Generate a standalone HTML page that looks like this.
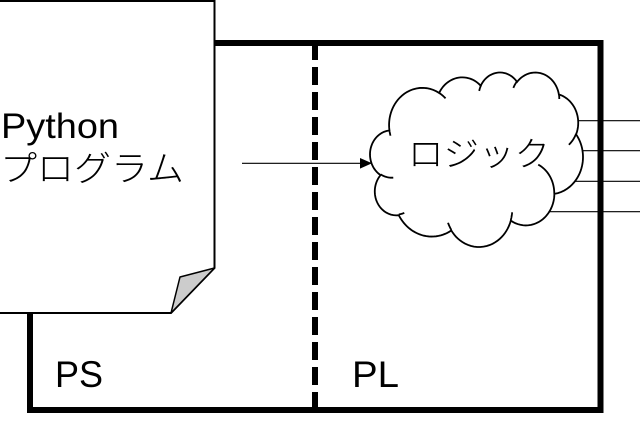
<!DOCTYPE html>
<html><head><meta charset="utf-8"><style>
html,body{margin:0;padding:0;background:#fff;width:640px;height:422px;overflow:hidden}
svg{display:block}
.lat{font-family:"Liberation Sans","Noto Sans CJK JP",sans-serif}
.jp{font-family:"Liberation Sans","Noto Sans CJK JP",sans-serif;font-weight:300}
</style></head><body>
<svg width="640" height="422" viewBox="0 0 640 422" xmlns="http://www.w3.org/2000/svg">
<rect x="0" y="0" width="640" height="422" fill="#fff"/>
<!-- main PS/PL box -->
<rect x="30" y="43" width="570.5" height="367" fill="#fff" stroke="#000" stroke-width="6"/>
<!-- dashed divider -->
<line x1="315" y1="42" x2="315" y2="410" stroke="#000" stroke-width="6" stroke-dasharray="18 7"/>
<!-- output lines -->
<line x1="540" y1="120.7" x2="640" y2="120.7" stroke="#000" stroke-width="1.2"/>
<line x1="540" y1="150.7" x2="640" y2="150.7" stroke="#000" stroke-width="1.2"/>
<line x1="540" y1="181.3" x2="640" y2="181.3" stroke="#000" stroke-width="1.2"/>
<line x1="530" y1="211.7" x2="640" y2="211.7" stroke="#000" stroke-width="1.2"/>
<!-- cloud -->
<path id="cloud" d="M390,132 A32,32 0 0,1 443,98 A22,22 0 0,1 483,87 A17,17 0 0,1 513,88 A25,25 0 0,1 560,98 A26,26 0 0,1 570,145 A27,27 0 0,1 557,193 A27,27 0 0,1 512,222 A33,33 0 0,1 450,225 A26,26 0 0,1 403,215 A20,20 0 0,1 393,178 A24,24 0 0,1 390,132 Z" fill="#fff" stroke="#000" stroke-width="1.8"/>
<path id="cloudin" d="" fill="none" stroke="#000" stroke-width="1.8"/>
<text class="jp" x="408" y="166" font-size="34" textLength="142" lengthAdjust="spacingAndGlyphs">ロジック</text>
<!-- arrow -->
<line x1="242" y1="163.3" x2="361" y2="163.3" stroke="#000" stroke-width="1.2"/>
<polygon points="360,158 372,163.3 360,168.6" fill="#000"/>
<!-- document -->
<polygon points="-5,1 214.5,1 214.5,268 171,313 -5,313" fill="#fff" stroke="#000" stroke-width="2"/>
<polygon points="214.5,268 180,277 171,313" fill="#cccccc" stroke="#000" stroke-width="1.5" stroke-linejoin="round"/>
<text class="lat" x="1" y="138" font-size="35" textLength="118" lengthAdjust="spacingAndGlyphs">Python</text>
<text class="jp" x="0" y="181" font-size="35" textLength="184" lengthAdjust="spacingAndGlyphs">プログラム</text>
<!-- labels -->
<text class="lat" x="55" y="387" font-size="37" textLength="48" lengthAdjust="spacingAndGlyphs">PS</text>
<text class="lat" x="352" y="387" font-size="37" textLength="47" lengthAdjust="spacingAndGlyphs">PL</text>
</svg>
<script>
(function(){
try{
var K=60000, D=Math.PI/180;
function arcPts(px,py,wr,hr,st,sw,out){
  var a=wr,b=hr,th0=st/K*D,dth=sw/K*D;
  var t0=Math.atan2(a*Math.sin(th0),b*Math.cos(th0));
  var cx=px-a*Math.cos(t0),cy=py-b*Math.sin(t0);
  var N=28;
  for(var i=1;i<=N;i++){
    var th=th0+dth*i/N;
    var t=Math.atan2(a*Math.sin(th),b*Math.cos(th));
    px=cx+a*Math.cos(t);py=cy+b*Math.sin(t);
    out.push([px,py]);
  }
  return [px,py];
}
var arcs=[[6753,9190,-11429249,7426832],[5333,7267,-8646143,5396714],[4365,5945,-8748475,5983381],[4857,6595,-7859164,7034504],[5333,7273,-4722533,6541615],[6775,9220,-2776035,7816140],[5785,7867,37501,6842000],[6752,9215,1347096,6910353],[7720,10543,3974558,4542661],[4360,5918,-16496525,8804134],[4345,5945,-14809710,9151131]];
var pts=[[3900,14370]],p=[3900,14370];
for(var i=0;i<arcs.length;i++){p=arcPts(p[0],p[1],arcs[i][0],arcs[i][1],arcs[i][2],arcs[i][3],pts);}
var minx=1e9,maxx=-1e9,miny=1e9,maxy=-1e9;
pts.forEach(function(q){if(q[0]<minx)minx=q[0];if(q[0]>maxx)maxx=q[0];if(q[1]<miny)miny=q[1];if(q[1]>maxy)maxy=q[1];});
var X0=370,X1=583,Y0=72.5,Y1=247;
function mx(x){return X0+(x-minx)*(X1-X0)/(maxx-minx);}
function my(y){return Y0+(y-miny)*(Y1-Y0)/(maxy-miny);}
var d='';
pts.forEach(function(q,j){d+=(j?' L':'M')+mx(q[0]).toFixed(2)+' '+my(q[1]).toFixed(2);});
d+=' Z';
document.getElementById('cloud').setAttribute('d',d);
var inner=[[4693,26177,4345,5945,5204520,1585770],[6928,34899,4360,5918,4416628,686848],[16478,39090,6752,9215,8257449,844866],[28827,34751,6752,9215,387196,959901],[34129,22954,5785,7867,-4217541,4255042],[41798,15354,5333,7273,1819082,1665090],[38324,5426,4857,6595,-824660,891534],[29078,3952,4857,6595,-8950887,1091722],[22141,4720,4365,5945,-9809656,1061181],[14000,5192,6753,9190,-4002417,739161],[4127,15789,6753,9190,9459261,711490]];
var di='';
inner.forEach(function(s){
  var o=[];arcPts(s[0],s[1],s[2],s[3],s[4],s[5],o);
  di+=' M'+mx(s[0]).toFixed(2)+' '+my(s[1]).toFixed(2);
  o.forEach(function(q){di+=' L'+mx(q[0]).toFixed(2)+' '+my(q[1]).toFixed(2);});
});
document.getElementById('cloudin').setAttribute('d',di);
}catch(e){}
})();
</script>
</body></html>
